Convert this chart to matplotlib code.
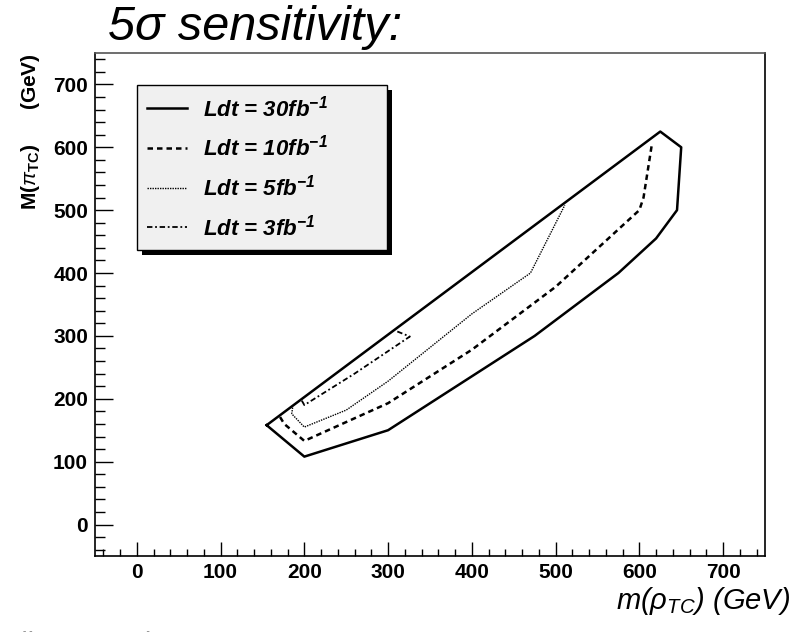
import matplotlib
matplotlib.use('Agg')
import matplotlib.pyplot as plt
from matplotlib.lines import Line2D
from matplotlib.patches import Rectangle

plt.rcParams['font.family'] = ['Liberation Sans', 'DejaVu Sans']
plt.rcParams['mathtext.fontset'] = 'custom'
plt.rcParams['mathtext.rm'] = 'Liberation Sans'
plt.rcParams['mathtext.it'] = 'Liberation Sans:italic'
plt.rcParams['mathtext.bf'] = 'Liberation Sans:bold'
plt.rcParams['mathtext.bfit'] = 'Liberation Sans:bold:italic'

# 5 sigma discovery contours in the (m_rho, M_pi) plane
lumi_labels = ['30', '10', '5', '3']

x_30fb = [155, 200, 300, 475, 575, 620, 645, 650, 625, 155]
y_30fb = [158, 108, 150, 300, 400, 455, 500, 600, 625, 158]

x_10fb = [171, 176, 200, 300, 400, 500, 600, 605, 615]
y_10fb = [171, 160, 133, 193, 278, 378, 500, 520, 605]

x_5fb = [186, 185, 200, 250, 300, 400, 470, 511]
y_5fb = [186, 176, 155, 182, 228, 335, 400, 508]

x_3fb = [197, 200, 260, 326, 311]
y_3fb = [197, 190, 240, 299, 307]

fig = plt.figure(figsize=(7.96, 6.32), dpi=100)
ax = fig.add_axes([0.1193, 0.1203, 0.8417, 0.7959])

ax.plot(x_30fb, y_30fb, color='black', lw=1.8, ls='-')
ax.plot(x_10fb, y_10fb, color='black', lw=1.8, ls=(0, (2.2, 1.6)))
ax.plot(x_5fb, y_5fb, color='black', lw=1.0, ls=(0, (1, 0.8)))
ax.plot(x_3fb, y_3fb, color='black', lw=1.3, ls=(0, (3, 1.5, 1, 1.5)))

ax.set_xlim(-50, 750)
ax.set_ylim(-50, 750)

ax.set_xticks(range(0, 701, 100))
ax.set_yticks(range(0, 701, 100))
ax.set_xticks(range(-40, 741, 20), minor=True)
ax.set_yticks(range(-40, 741, 20), minor=True)
ax.tick_params(axis='x', which='major', direction='in', length=10, width=1, pad=5,
               top=False, labelsize=15)
ax.tick_params(axis='x', which='minor', direction='in', length=5, width=1, top=False)
ax.tick_params(axis='y', which='major', direction='in', length=13, width=1, pad=5,
               right=False, labelsize=15)
ax.tick_params(axis='y', which='minor', direction='in', length=7, width=1, right=False)
for lab in ax.get_xticklabels() + ax.get_yticklabels():
    lab.set_fontweight('bold')
for sp in ax.spines.values():
    sp.set_linewidth(1.2)
ax.spines['top'].set_color('#555555')

ax.set_ylabel(r'M($\pi_{\mathbf{TC}}$)      (GeV)', fontsize=15, fontweight='bold',
              loc='top', labelpad=8)
fig.text(0.993, 0.037, r'm($\rho_{TC}$) (GeV)', fontsize=21, style='italic',
         ha='right', va='baseline')
fig.text(0.136, 0.937, '5σ sensitivity:', fontsize=35, style='italic',
         ha='left', va='baseline')
fig.text(0.004, 0.002, 'All masses in GeV', fontsize=20, color='#999999',
         ha='left', va='top')

handles = [
    Line2D([], [], color='black', lw=1.8, ls='-'),
    Line2D([], [], color='black', lw=1.8, ls=(0, (2.2, 1.6))),
    Line2D([], [], color='black', lw=1.0, ls=(0, (1, 0.8))),
    Line2D([], [], color='black', lw=1.3, ls=(0, (3, 1.5, 1, 1.5))),
]
labels = [r'Ldt = %sfb$^{\mathbfit{-1}}$' % l for l in lumi_labels]
leg = ax.legend(handles, labels, loc='upper left',
                bbox_to_anchor=(0.0627, 0.628, 0.373, 0.308), mode='expand',
                prop={'weight': 'bold', 'style': 'italic', 'size': 16},
                fancybox=False, edgecolor='black', facecolor='#f0f0f0', framealpha=1,
                handlelength=1.8, handletextpad=0.7, labelspacing=0.62,
                borderpad=0.45, borderaxespad=0)
leg.get_frame().set_linewidth(1.0)

# drop shadow under the legend box
fig.canvas.draw()
bb = leg.get_window_extent().transformed(ax.transAxes.inverted())
dx, dy = 5 / 670, 5 / 503
ax.add_patch(Rectangle((bb.x0 + dx, bb.y0 - dy), bb.width, bb.height,
                       transform=ax.transAxes, facecolor='black', edgecolor='none',
                       zorder=4.9, clip_on=False))

fig.savefig('out.png', dpi=100)
